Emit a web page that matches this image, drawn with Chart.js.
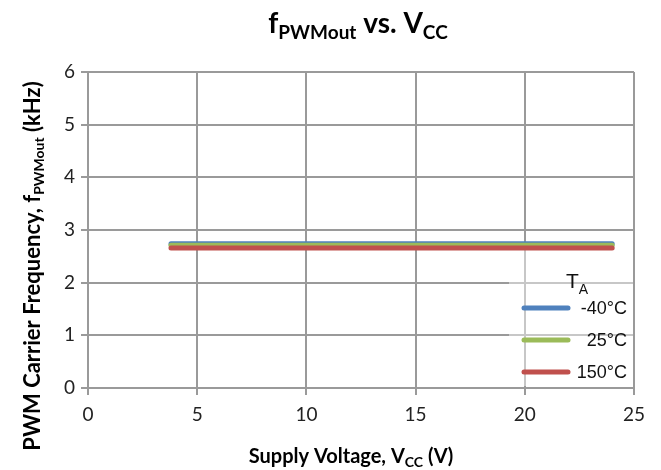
<!DOCTYPE html>
<html>
<head>
<meta charset="utf-8">
<script src="https://cdn.jsdelivr.net/npm/chart.js@4/dist/chart.umd.min.js"></script>
<style>
  html, body { margin: 0; padding: 0; background: #fff; }
  #wrap { width: 661px; height: 470px; position: relative; }
</style>
</head>
<body>
<div id="wrap"><canvas id="chart" width="661" height="470"></canvas></div>
<script>
// data
const vcc = [3.8, 5, 8, 12, 16, 20, 24];
const fMinus40 = [2.74, 2.74, 2.74, 2.74, 2.74, 2.74, 2.74];
const f25 = [2.71, 2.71, 2.71, 2.71, 2.71, 2.71, 2.71];
const f150 = [2.66, 2.66, 2.66, 2.66, 2.66, 2.66, 2.66];
const tempLabels = ['-40°C', '25°C', '150°C'];
const xTicks = [0, 5, 10, 15, 20, 25];
const yTicks = [0, 1, 2, 3, 4, 5, 6];

const colors = ['#4f81bd', '#9bbb59', '#c0504d'];
const gridColor = '#9a9a9a';

function pts(ys) {
    return vcc.map((v, i) => ({ x: v, y: ys[i] }));
}

// draws text with subscripts; parts = [[text, size, dy], ...]
function richText(ctx, parts, family, weight, x, y, align) {
    let total = 0;
    parts.forEach(p => {
        ctx.font = weight + ' ' + p[1] + 'px ' + family;
        total += ctx.measureText(p[0]).width;
    });
    let cx = align === 'center' ? x - total / 2 : x;
    parts.forEach(p => {
        ctx.font = weight + ' ' + p[1] + 'px ' + family;
        ctx.fillText(p[0], cx, y + (p[2] || 0));
        cx += ctx.measureText(p[0]).width;
    });
}

const labelsPlugin = {
    id: 'labels',
    beforeDatasetsDraw(chart) {
        // legend box sits over the grid, semi transparent
        const ctx = chart.ctx;
        ctx.save();
        ctx.fillStyle = 'rgba(255,255,255,0.45)';
        ctx.fillRect(509, 250, 124, 136);
        ctx.restore();
    },
    afterDraw(chart) {
        const ctx = chart.ctx;
        ctx.save();
        ctx.fillStyle = '#000';
        ctx.textBaseline = 'alphabetic';
        ctx.textAlign = 'left';

        // title
        richText(ctx, [['f', 28, 0], ['PWMout', 19, 6], [' vs. V', 28, 0], ['CC', 19, 6]],
            'Lato', 'bold', 358, 33, 'center');

        // x axis title
        richText(ctx, [['Supply Voltage, V', 20, 0], ['CC', 14, 4], [' (V)', 20, 0]],
            'Lato', 'bold', 351, 463, 'center');

        // y axis title
        ctx.save();
        ctx.translate(40, 266);
        ctx.rotate(-Math.PI / 2);
        richText(ctx, [['PWM Carrier Frequency, f', 22, 0], ['PWMout', 14, 4], [' (kHz)', 22, 0]],
            'Lato', 'bold', 0, 0, 'center');
        ctx.restore();

        // legend
        ctx.fillStyle = '#111';
        richText(ctx, [['T', 21, 0], ['A', 14, 6]], '"Liberation Sans"', 'normal', 566, 288, 'left');
        const rowY = [308, 340, 372];
        ctx.lineCap = 'round';
        ctx.lineWidth = 5;
        tempLabels.forEach((t, i) => {
            ctx.strokeStyle = colors[i];
            ctx.beginPath();
            ctx.moveTo(524, rowY[i]);
            ctx.lineTo(568, rowY[i]);
            ctx.stroke();
            ctx.font = '18px "Liberation Sans"';
            ctx.textAlign = 'right';
            ctx.textBaseline = 'middle';
            ctx.fillText(t, 627, rowY[i] + 1);
        });
        ctx.restore();
    }
};

const datasets = [fMinus40, f25, f150].map((ys, i) => ({
    label: tempLabels[i],
    data: pts(ys),
    borderColor: colors[i],
    backgroundColor: colors[i],
    borderWidth: 5,
    borderCapStyle: 'round',
    pointRadius: 0,
    fill: false,
    order: 3 - i
}));

new Chart(document.getElementById('chart'), {
    type: 'line',
    data: { datasets: datasets },
    options: {
        responsive: false,
        animation: false,
        layout: { padding: { top: 72, right: 27, left: 0, bottom: 0 } },
        plugins: { legend: { display: false }, title: { display: false }, tooltip: { enabled: false } },
        scales: {
            x: {
                type: 'linear',
                min: xTicks[0],
                max: xTicks[xTicks.length - 1],
                afterFit: s => { s.height = 82; },
                afterBuildTicks: s => { s.ticks = xTicks.map(v => ({ value: v })); },
                grid: { color: gridColor, lineWidth: 2, tickLength: 7, tickColor: gridColor },
                border: { color: gridColor, width: 2 },
                ticks: { color: '#222', padding: 8, maxRotation: 0, font: { family: 'Lato', size: 19 } }
            },
            y: {
                min: yTicks[0],
                max: yTicks[yTicks.length - 1],
                afterFit: s => { s.width = 88; },
                afterBuildTicks: s => { s.ticks = yTicks.map(v => ({ value: v })); },
                grid: { color: gridColor, lineWidth: 2, tickLength: 7, tickColor: gridColor },
                border: { color: gridColor, width: 2 },
                ticks: { color: '#222', padding: 6, font: { family: 'Lato', size: 19 } }
            }
        }
    },
    plugins: [labelsPlugin]
});
</script>
</body>
</html>
